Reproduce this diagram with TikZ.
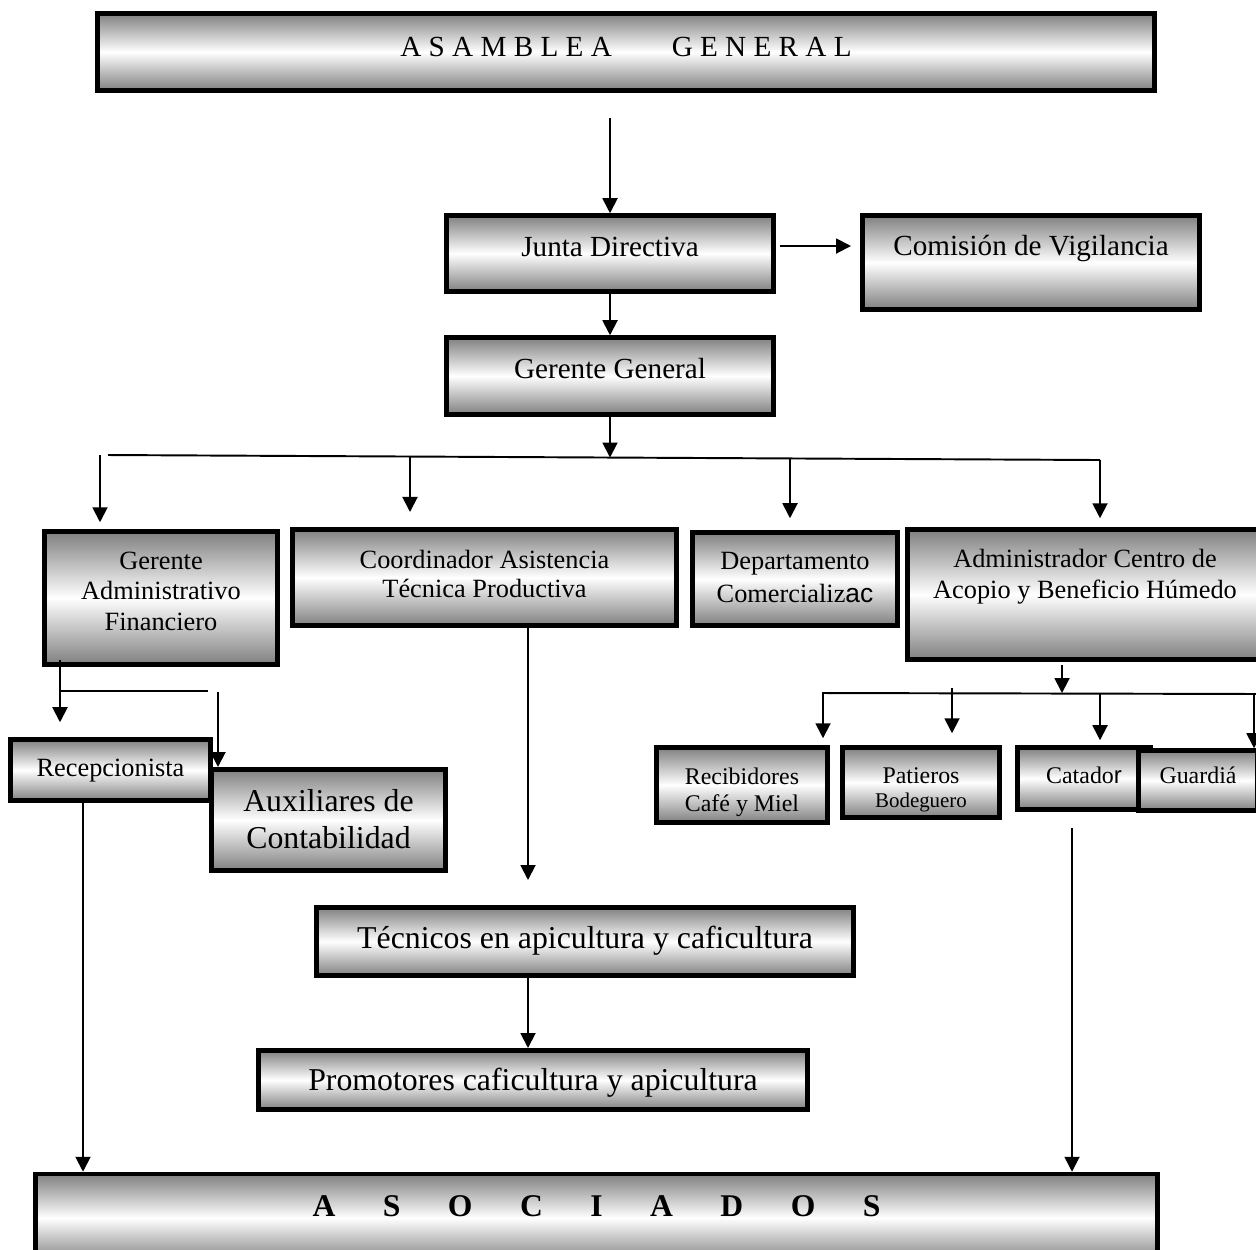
\documentclass[tikz,border=0pt]{standalone}
\usepackage{fontspec}
\setmainfont{Liberation Serif}
\newfontfamily\sansmix{Liberation Sans}
\usetikzlibrary{
	arrows.meta,
	positioning,
	calc
}
\tikzset{
  % box
	cstbox/.style     ={draw=black, line width=2.6pt, top color=black!50, bottom color=black!50, middle color=white, inner xsep=0pt, inner ysep=0pt, align=center},
  % font
	cstfonta/.style   ={font=\fontsize{16.6pt}{19pt}\selectfont},
	cstfontb/.style   ={font=\fontsize{15pt}{17.3pt}\selectfont},
	cstfontc/.style   ={font=\fontsize{18.1pt}{20.7pt}\selectfont},
	cstfontd/.style   ={font=\fontsize{13.6pt}{15.3pt}\selectfont},
  % arrow
	cstra/.style      ={-{Triangle[length=0.3cm,width=0.3cm]}, line width=1.1pt},
	cstline/.style    ={line width=1.1pt}
}
\begin{document}
\begin{tikzpicture}[x=0.02cm,y=-0.02cm]
	\useasboundingbox (0,0) rectangle (1256,1249);
	% upper levels
	\node[cstbox,cstfonta,minimum width=21.15cm,text height=.85cm,text depth=.69cm] (asamblea) at (626,52) {A S A M B L E A\hspace{1.2cm}G E N E R A L};
	\node[cstbox,cstfonta,minimum width=6.55cm,text height=.81cm,text depth=.71cm] (junta) at (610,253.5) {Junta Directiva};
	\node[cstbox,cstfonta,minimum width=6.75cm,text height=.79cm,text depth=1.09cm] (comision) at (1031,262.5) {Comisión de Vigilancia};
	\node[cstbox,cstfonta,minimum width=6.55cm,text height=.81cm,text depth=.73cm] (gerente) at (610,376) {Gerente General};
	% second level (text height counted from the last line)
	\node[cstbox,cstfontb,minimum width=4.67cm,text height=1.97cm,text depth=.69cm] (gadmin) at (161,598) {Gerente\\Administrativo\\Financiero};
	\node[cstbox,font=\fontsize{15pt}{16.4pt}\selectfont,minimum width=7.69cm,text height=1.36cm,text depth=.57cm] (coord) at (484.5,577.5) {Coordinador Asistencia\\Técnica Productiva};
	\node[cstbox,font=\fontsize{15pt}{18.7pt}\selectfont,minimum width=4.11cm,text height=1.39cm,text depth=.47cm] (depto) at (795,579) {Departamento\\Comercializ{\sansmix ac}};
	\node[cstbox,font=\fontsize{15pt}{17.6pt}\selectfont,minimum width=7.11cm,text height=1.37cm,text depth=1.23cm] (admin) at (1085,594.5) {Administrador Centro de\\Acopio y Beneficio Húmedo};
	% third level
	\node[cstbox,cstfontb,minimum width=4.01cm,text height=.73cm,text depth=.49cm] (recep) at (110.5,770) {Recepcionista};
	\node[cstbox,cstfontc,minimum width=4.69cm,text height=1.58cm,text depth=.45cm] (aux) at (328.5,820) {Auxiliares de\\Contabilidad};
	\node[cstbox,cstfontd,align=left,minimum width=3.43cm,text height=1.27cm,text depth=.23cm] (recib) at (742,785) {Recibidores\\Café y Miel};
	\node[cstbox,font=\fontsize{13.6pt}{13.6pt}\selectfont,minimum width=3.15cm,text height=1.19cm,text depth=.21cm] (patio) at (921,782.5) {Patieros\\{\fontsize{11.9pt}{13pt}\selectfont Bodeguero}};
	\node[cstbox,cstfontd,minimum width=2.67cm,text height=.71cm,text depth=.53cm] (catador) at (1084,778.5) {Catado{\sansmix r}};
	\node[cstbox,cstfontd,minimum width=2.39cm,text height=.65cm,text depth=.55cm] (guardia) at (1198,780.5) {Guardiá};
	\node[cstbox,cstfontc,minimum width=10.75cm,text height=.83cm,text depth=.54cm] (tecnicos) at (585,941.5) {Técnicos en apicultura y caficultura};
	\node[cstbox,cstfontc,minimum width=10.99cm,text height=.81cm,text depth=.38cm] (promo) at (533,1080) {Promotores caficultura y apicultura};
	\node[cstbox,font=\fontsize{18pt}{20pt}\selectfont\bfseries,minimum width=22.45cm,text height=.85cm,text depth=.91cm] (asoc) at (596.5,1218) {A\hspace{0.95cm}S\hspace{0.95cm}O\hspace{0.95cm}C\hspace{0.95cm}I\hspace{0.95cm}A\hspace{0.95cm}D\hspace{0.95cm}O\hspace{0.95cm}S};
	% free ends
	\coordinate (a0) at (610,118);
	\coordinate (j0) at (780,246);
	\coordinate (b0) at (108,455);
	\coordinate (b1) at (1100,460);
	\coordinate (bm) at (610,457.5);
	\coordinate (d1) at (100,455);
	\coordinate (d2) at (410,457);
	\coordinate (d3) at (790,459);
	\coordinate (d4) at (1100,460);
	\coordinate (r0) at (60,660);
	\coordinate (g1) at (60,691);
	\coordinate (g2) at (208,691);
	\coordinate (x0) at (218,692);
	\coordinate (r1) at (83,0);
	\coordinate (t0) at (528,0);
	\coordinate (s0) at (1062,665);
	\coordinate (sb1) at (822,693);
	\coordinate (sb2) at (1270,694);
	\coordinate (e1) at (823,693);
	\coordinate (e2) at (952,688);
	\coordinate (e3) at (1100,694);
	\coordinate (e4) at (1254,694);
	\coordinate (k0) at (1072,828);
	% connectors
	\draw[cstra] (a0) -- (junta);
	\draw[cstra,shorten >=.18cm] (j0) -- (j0 -| comision.west);
	\draw[cstra] (junta) -- (gerente);
	\draw[cstra] (gerente) -- (bm);
	\draw[cstline] (b0) -- (b1);
	\draw[cstra,shorten >=.14cm] (d1) -- (d1 |- gadmin.north);
	\draw[cstra,shorten >=.3cm] (d2) -- (d2 |- coord.north);
	\draw[cstra,shorten >=.24cm] (d3) -- (d3 |- depto.north);
	\draw[cstra,shorten >=.18cm] (d4) -- (d4 |- admin.north);
	\draw[cstra,shorten >=.3cm] (r0) -- (r0 |- recep.north);
	\draw[cstline] (g1) -- (g2);
	\draw[cstra] (x0) -- (x0 |- aux.north);
	\draw[cstra] (recep.south -| r1) -- (asoc.north -| r1);
	\draw[cstra,shorten >=.5cm] (coord.south -| t0) -- (tecnicos.north -| t0);
	\draw[cstra] (tecnicos.south -| t0) -- (promo.north -| t0);
	\draw[cstra] (s0) -- (s0 |- sb1);
	\draw[cstline] (sb1) -- (sb2);
	\draw[cstra,shorten >=.14cm] (e1) -- (e1 |- recib.north);
	\draw[cstra,shorten >=.24cm] (e2) -- (e2 |- patio.north);
	\draw[cstra,shorten >=.1cm] (e3) -- (e3 |- catador.north);
	\draw[cstra] (e4) -- (e4 |- guardia.north);
	\draw[cstra] (k0) -- (k0 |- asoc.north);
\end{tikzpicture}
\end{document}
